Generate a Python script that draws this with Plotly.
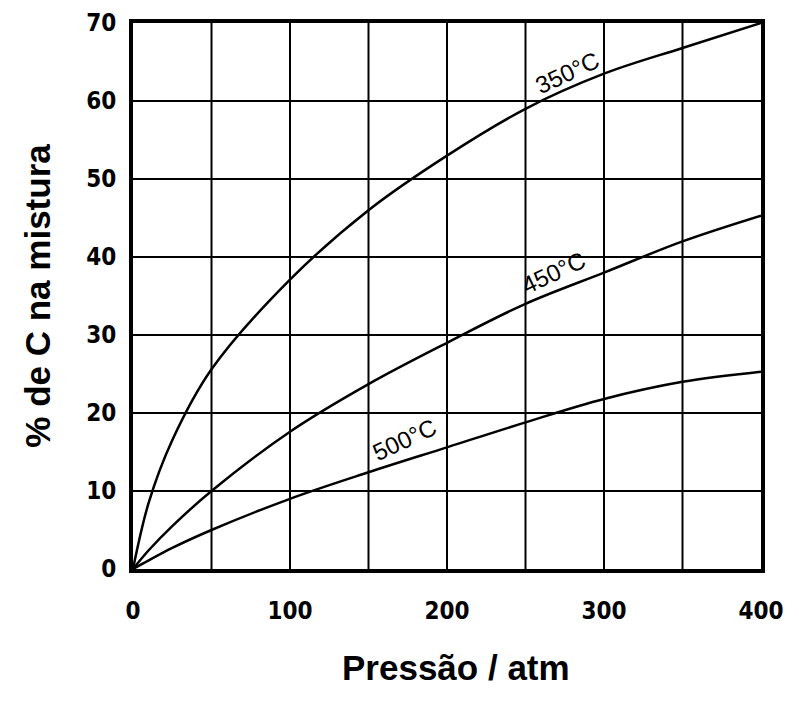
import plotly.graph_objects as go

# pressure (atm) and % of C
pressao = [0, 10, 25, 50, 100, 150, 200, 250, 300, 350, 400]
c_350 = [0, 8.5, 16.5, 25.6, 37.1, 46.0, 53.0, 59.0, 63.5, 66.8, 70.0]
c_450 = [0, 2.4, 5.5, 10.0, 17.6, 23.7, 29.0, 34.0, 38.0, 42.0, 45.3]
c_500 = [0, 1.1, 2.7, 5.0, 9.0, 12.4, 15.6, 18.8, 21.8, 24.0, 25.3]

rotulos = ["350°C", "450°C", "500°C"]
rot_x = [277, 268, 173]
rot_y = [63.6, 38.0, 16.6]

fig = go.Figure()
for serie in [c_350, c_450, c_500]:
    fig.add_trace(go.Scatter(x=pressao, y=serie, mode="lines",
                             line=dict(color="black", width=2.5, shape="spline"),
                             showlegend=False))

for txt, ax, ay in zip(rotulos, rot_x, rot_y):
    fig.add_annotation(x=ax, y=ay, text=txt, showarrow=False, textangle=-25,
                       font=dict(family="Liberation Sans, Arial", size=24, color="black"))

tick_font = dict(family="DejaVu Sans Condensed, Liberation Sans", size=24, color="black")
title_font = dict(family="Liberation Sans, Arial", size=35, color="black")

# figure is a bit smaller than the window because of the page margin
fig.update_layout(
    width=791, height=693,
    margin=dict(l=125, r=38, t=15, b=132),
    plot_bgcolor="white", paper_bgcolor="white",
)
fig.update_xaxes(range=[0, 400], tickvals=[0, 100, 200, 300, 400],
                 ticktext=["<b>0</b>", "<b>100</b>", "<b>200</b>", "<b>300</b>", "<b>400</b>"],
                 tickfont=tick_font, ticks="", ticklabelstandoff=17, ticklabeloverflow="allow",
                 showgrid=False, zeroline=False, automargin=False,
                 showline=True, linecolor="black", linewidth=4, mirror=True)
fig.update_yaxes(range=[0, 70], tickvals=[0, 10, 20, 30, 40, 50, 60, 70],
                 ticktext=["<b>%d</b>" % v for v in range(0, 80, 10)],
                 tickfont=tick_font, ticks="", ticklabelstandoff=8, ticklabeloverflow="allow",
                 gridcolor="black", gridwidth=2, zeroline=False, automargin=False,
                 showline=True, linecolor="black", linewidth=4, mirror=True,
                 title=dict(text="<b>% de C na mistura</b>", font=title_font, standoff=26))

# x title sits a little right of the plot centre in the original
fig.add_annotation(x=0.515, y=-0.18, xref="paper", yref="paper", showarrow=False,
                   text="<b>Pressão / atm</b>", font=title_font, yanchor="middle")

# vertical grid every 50 atm
for gx in range(50, 400, 50):
    fig.add_vline(x=gx, line=dict(color="black", width=2), layer="below")

fig.write_html("out.html")
